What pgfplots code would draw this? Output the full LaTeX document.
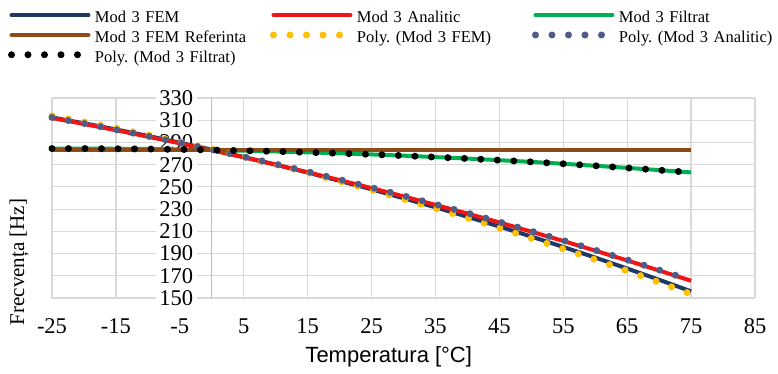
\documentclass[border=0pt]{standalone}
\usepackage{pgfplots}
\pgfplotsset{compat=1.18}
\usepackage{fontspec}
\setmainfont{Liberation Serif}
\newfontfamily\arialfont{Liberation Sans}
\frenchspacing
\definecolor{femc}{RGB}{32,56,100}
\definecolor{anac}{RGB}{240,20,20}
\definecolor{filc}{RGB}{0,176,80}
\definecolor{refc}{RGB}{140,75,25}
\definecolor{polyfem}{RGB}{255,192,0}
\definecolor{polyana}{RGB}{80,92,135}
\definecolor{gridgray}{RGB}{217,217,217}
\definecolor{axisgray}{RGB}{190,190,190}
\pgfplotsset{
  layers/mylayers/.define layer set={axis background,axis grid,axis ticks,axis lines,axis tick labels,pre main,main,axis descriptions,axis foreground}{/pgfplots/layers/standard},
}
\begin{document}
\begin{tikzpicture}
\begin{axis}[
  set layers=mylayers,
  at={(0pt,0pt)}, anchor=south west,
  scale only axis, width=703pt, height=200pt,
  xmin=-25, xmax=85, ymin=150, ymax=330,
  axis x line=bottom, axis y line=middle,
  hide obscured x ticks=false, hide obscured y ticks=false,
  x axis line style={-, draw=gridgray, line width=1.2pt},
  y axis line style={-, draw=axisgray, line width=1.4pt},
  xtick={-25,-15,-5,5,15,25,35,45,55,65,75,85},
  xticklabels={-25,-15,-5,5,15,25,35,45,55,65,75,85},
  ytick={150,170,190,210,230,250,270,290,310,330},
  grid=major, major grid style={draw=gridgray, line width=1.2pt},
  major tick length=0pt,
  ticklabel style={font=\fontsize{22.5}{24}\selectfont},
  /pgf/number format/assume math mode=true,
  yticklabel style={anchor=east, xshift=-15pt, fill=white},
  xticklabel style={anchor=north, yshift=-17pt},
  legend columns=3,
  legend image code/.code={\draw[#1, line cap=round] (0pt,4pt) -- (77pt,4pt);},
  legend style={at={(axis description cs:-0.0626,1.43)}, anchor=north west,
    draw=none, fill=none, inner sep=0pt, outer sep=0pt, row sep=5pt,
    font=\fontsize{16.5}{18}\selectfont,
    nodes={text width=172pt, inner xsep=3pt, inner ysep=0pt, text height=11pt, text depth=3.5pt, align=left},
    /tikz/every odd column/.append style={column sep=0pt}},
  legend cell align=left,
  clip=false,
]
\addplot[femc, line width=4pt] coordinates {(-25,312.5)(-20,307.2)(-15,301.7)(-10,295.9)(-5,289.8)(0,283.5)(5,276.9)(10,270.0)(15,262.9)(20,255.4)(25,247.8)(30,239.8)(35,231.6)(40,223.1)(45,214.3)(50,205.3)(55,195.9)(60,186.4)(65,176.5)(70,166.4)(75,156.0)};
\addlegendentry{Mod 3 FEM}
\addplot[anac, line width=4pt] coordinates {(-25,312.0)(-20,306.6)(-15,301.0)(-10,295.2)(-5,289.2)(0,283.0)(5,276.6)(10,270.0)(15,263.2)(20,256.1)(25,248.9)(30,241.5)(35,233.8)(40,226.0)(45,218.0)(50,209.7)(55,201.3)(60,192.6)(65,183.8)(70,174.7)(75,165.5)};
\addlegendentry{Mod 3 Analitic}
\addplot[filc, line width=4pt] coordinates {(-25,284.5)(-20,284.5)(-15,284.3)(-10,284.1)(-5,283.7)(0,283.2)(5,282.6)(10,281.9)(15,281.1)(20,280.2)(25,279.2)(30,278.1)(35,276.8)(40,275.5)(45,274.0)(50,272.5)(55,270.8)(60,269.0)(65,267.1)(70,265.1)(75,263.0)};
\addlegendentry{Mod 3 Filtrat}
\addplot[refc, line width=4pt] coordinates {(-25,282.8)(75,282.8)};
\addlegendentry{Mod 3 FEM Referinta}
\addplot[polyfem, line width=7pt, line cap=round, dash pattern=on 0pt off 16.5pt] coordinates {(-25,314.0)(-20,308.5)(-15,302.8)(-10,296.8)(-5,290.5)(0,284.0)(5,277.2)(10,270.1)(15,262.8)(20,255.1)(25,247.3)(30,239.1)(35,230.7)(40,222.0)(45,213.0)(50,203.8)(55,194.2)(60,184.5)(65,174.4)(70,164.1)(75,153.5)};
\addlegendentry{Poly. (Mod 3 FEM)}
\addplot[polyana, line width=7pt, line cap=round, dash pattern=on 0pt off 16.5pt] coordinates {(-25,312.5)(-20,307.1)(-15,301.5)(-10,295.7)(-5,289.7)(0,283.5)(5,277.1)(10,270.5)(15,263.7)(20,256.6)(25,249.4)(30,242.0)(35,234.3)(40,226.5)(45,218.5)(50,210.2)(55,201.8)(60,193.1)(65,184.3)(70,175.2)(75,166.0)};
\addlegendentry{Poly. (Mod 3 Analitic)}
\addplot[black, line width=7pt, line cap=round, dash pattern=on 0pt off 16.5pt] coordinates {(-25,284.5)(-20,284.5)(-15,284.3)(-10,284.1)(-5,283.7)(0,283.2)(5,282.6)(10,281.9)(15,281.1)(20,280.2)(25,279.2)(30,278.1)(35,276.8)(40,275.5)(45,274.0)(50,272.5)(55,270.8)(60,269.0)(65,267.1)(70,265.1)(75,263.0)};
\addlegendentry{Poly. (Mod 3 Filtrat)}
\node[rotate=90, font=\fontsize{21}{23}\selectfont] at (axis description cs:-0.047,0.18) {Frecvența [Hz]};
\node[font=\arialfont\fontsize{22}{24}\selectfont] at (axis description cs:0.479,-0.295) {Temperatura [°C]};
\end{axis}
\pgfresetboundingbox
\path (-52pt,-76pt) rectangle (726pt,298pt);
\end{tikzpicture}
\end{document}
